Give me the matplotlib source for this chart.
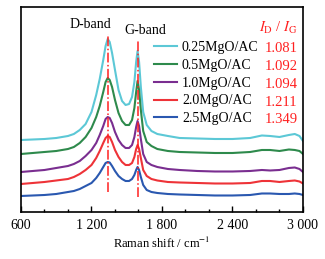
import numpy as np
import matplotlib
matplotlib.use('Agg')
import matplotlib.pyplot as plt
from matplotlib.ticker import MultipleLocator

plt.rcParams['font.family'] = ['Liberation Serif', 'DejaVu Serif']
plt.rcParams['mathtext.fontset'] = 'stix'

# Raman shift / cm-1
shift = [600, 700, 800, 900, 1000, 1050, 1100, 1150, 1200, 1240, 1270, 1300, 1320,
         1338, 1355, 1375, 1400, 1430, 1460, 1490, 1520, 1545, 1565, 1580, 1592,
         1605, 1620, 1640, 1670, 1710, 1760, 1850, 1950, 2100, 2250, 2400, 2550,
         2650, 2720, 2800, 2880, 2930, 2970, 3000]

# intensities (a.u., stacked)
int_025 = [72, 72.5, 73, 74, 76, 78, 82, 88, 100, 117, 133, 152, 166,
           173, 170, 159, 142, 122, 111, 107, 108, 115, 130, 150, 161,
           150, 125, 100, 87, 81, 78, 76, 74, 73.5, 73, 73, 74,
           76.5, 76, 75, 77, 78, 76, 71]
int_05 = [58, 59, 60, 61, 63, 65, 69, 75, 84, 95, 106, 120, 130,
          134, 132, 125, 112, 99, 91, 87, 87, 92, 104, 120, 131,
          122, 102, 81, 70, 66, 63, 61, 60, 59.5, 59, 59, 60,
          62, 62, 61, 62.5, 62, 61, 58]
int_10 = [40, 41, 42, 44, 46, 48, 51, 56, 62, 69, 77, 86, 93,
          95, 94, 89, 80, 72, 67, 64, 64, 67, 75, 85, 91,
          86, 73, 58, 50, 47, 45, 43, 42, 41, 40.5, 40.5, 41,
          42, 41.5, 42, 44, 44.5, 43, 40]
int_20 = [28, 29, 30, 31.5, 33, 35, 38, 42, 47, 54, 61, 69, 74,
          76, 75, 70, 62, 55, 50, 47, 47, 49, 55, 63, 67,
          63, 54, 42, 36, 33, 31.5, 30, 29.5, 29, 28.5, 28.5, 29,
          31, 31, 30, 31, 31.5, 30.5, 28.5]
int_25 = [16, 16.5, 17, 18, 20, 21, 23, 26, 29, 34, 39, 45, 49,
          50, 49.5, 46, 41, 36, 33, 31, 31, 33, 37, 42, 45,
          42, 35, 27, 22, 20, 19, 18, 17.5, 17, 16.5, 16.5, 17,
          18.5, 18.5, 18, 18, 18.5, 18, 17]

labels = ['0.25MgO/AC', '0.5MgO/AC', '1.0MgO/AC', '2.0MgO/AC', '2.5MgO/AC']
ratios = ['1.081', '1.092', '1.094', '1.211', '1.349']
colors = ['#5cc8d6', '#2e8a4c', '#7a2e90', '#ee3338', '#2a58b0']
series = [int_025, int_05, int_10, int_20, int_25]

d_band = 1338
g_band = 1592

xticks = [600, 1200, 1800, 2400, 3000]
xticklabels = ['600', '1 200', '1 800', '2 400', '3 000']

fig = plt.figure(figsize=(3.25, 2.59), dpi=100)
ax = fig.add_axes([0.0646, 0.1815, 0.8677, 0.7915])

for y, c, lab in zip(series, colors, labels):
    ax.plot(shift, y, color=c, lw=1.5, label=lab)

ax.vlines([d_band], 20, 178, colors='#ff2020', linestyles='-.', lw=1.1)
ax.vlines([g_band], 15, 172, colors='#ff2020', linestyles='-.', lw=1.1)

ax.set_xlim(600, 3000)
ax.set_ylim(0, 205)
ax.set_xticks(xticks)
ax.set_xticklabels(xticklabels)
ax.xaxis.set_minor_locator(MultipleLocator(200))
ax.set_yticks([])
ax.tick_params(axis='x', which='both', direction='in', labelsize=10, pad=5)
ax.tick_params(axis='x', which='major', length=4, width=1)
ax.tick_params(axis='x', which='minor', length=2.5, width=1)
for s in ax.spines.values():
    s.set_linewidth(1.2)

ax.set_xlabel('Raman shift / cm$^{-1}$', fontsize=9, labelpad=3)

ax.text(1187, 187, 'D-band', ha='center', va='center', fontsize=10)
ax.text(1655, 181, 'G-band', ha='center', va='center', fontsize=10)

leg = ax.legend(loc='upper left', bbox_to_anchor=(0.472, 0.835), frameon=False,
                fontsize=10, handlelength=1.65, handletextpad=0.35,
                labelspacing=0.35, borderpad=0, borderaxespad=0)

ax.text(2955, 184, r'$I_{\mathrm{D}}$ / $I_{\mathrm{G}}$', ha='right', va='center',
        fontsize=10.5, color='#ff2020')
row_y = [163, 145.3, 127.5, 109.5, 92]
for ry, r in zip(row_y, ratios):
    ax.text(2955, ry, r, ha='right', va='center', fontsize=10.5, color='#ff2020')

plt.savefig('out.png', dpi=100)
